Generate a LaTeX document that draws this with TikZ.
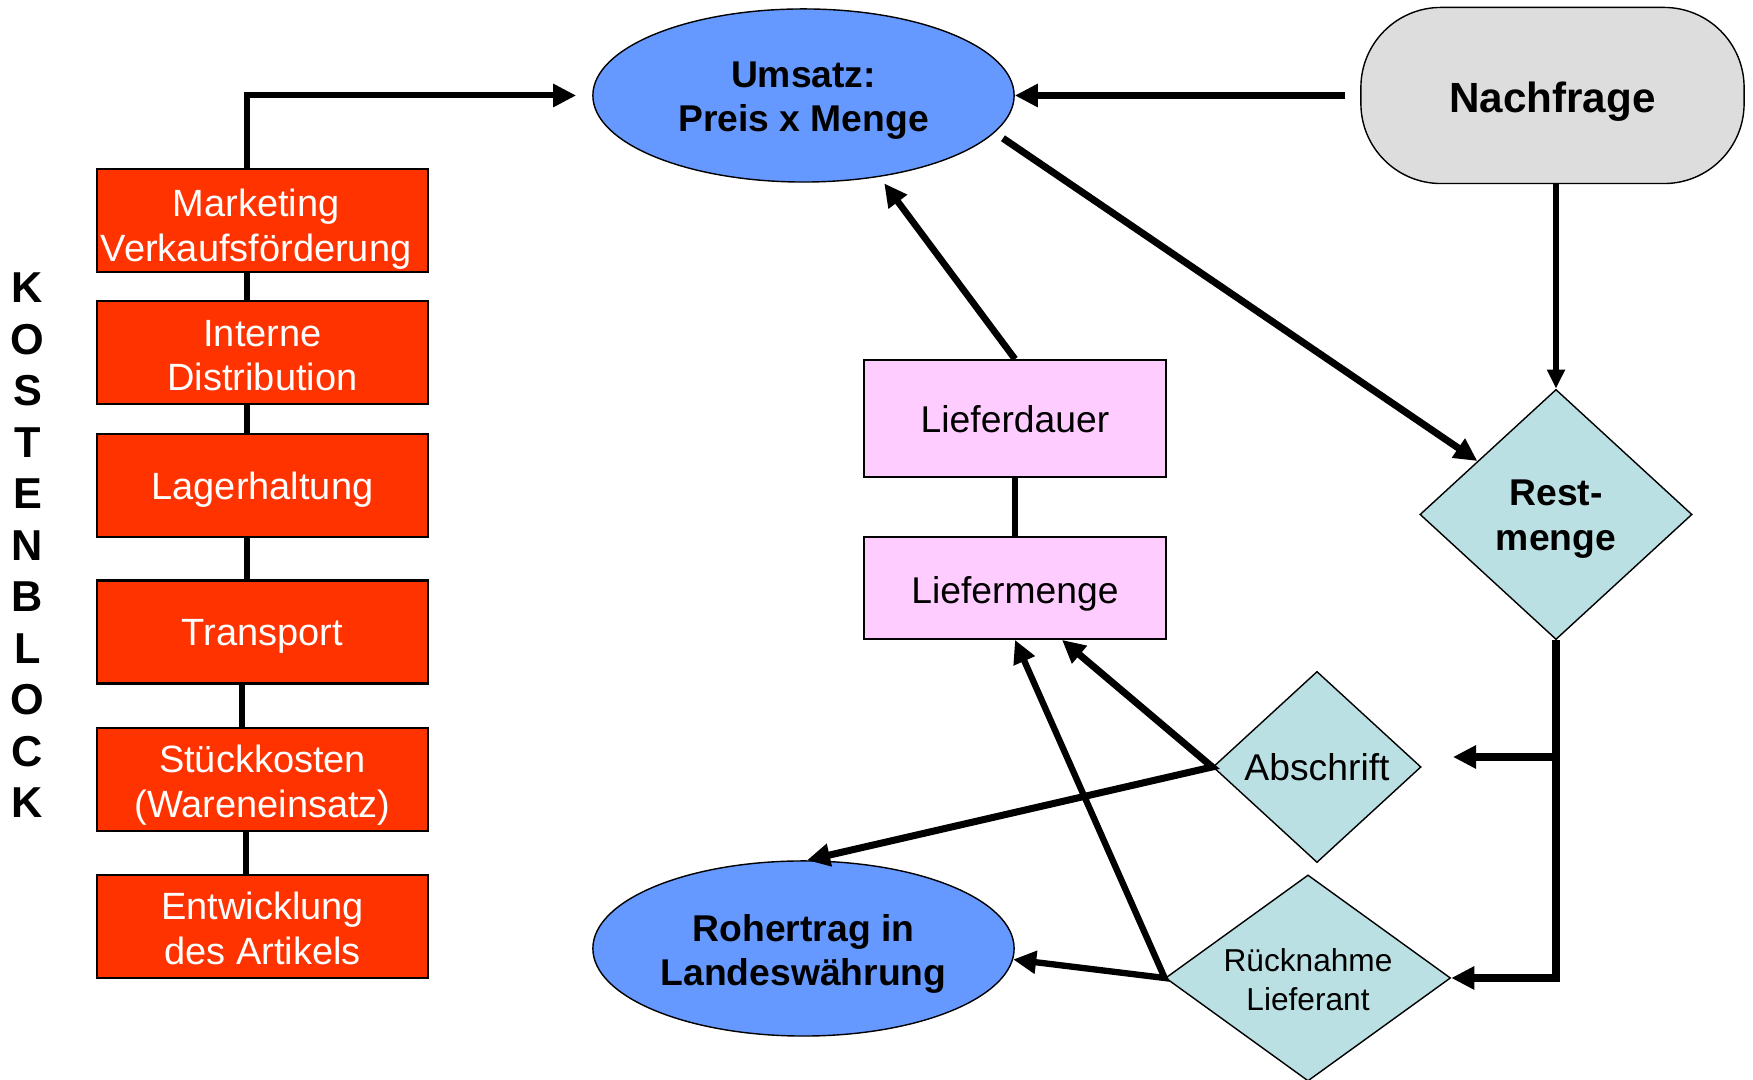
\documentclass[tikz,border=0pt]{standalone}
\usepackage{fontspec}
\setmainfont{Liberation Sans}
\usetikzlibrary{shapes.geometric,arrows.meta,calc}

\definecolor{costred}{RGB}{255,51,0}
\definecolor{salesblue}{RGB}{102,153,255}
\definecolor{demandgray}{RGB}{221,221,221}
\definecolor{delivpink}{RGB}{255,204,255}
\definecolor{decisioncyan}{RGB}{187,224,227}

% a line of text set slightly lower without changing its box
\newcommand\lowr[2][1.4pt]{\raisebox{-#1}[\height][\depth]{#2}}

\begin{document}
\begin{tikzpicture}[x=0.01cm, y=-0.01cm,
  costbox/.style={draw=black, line width=0.6pt, fill=costred, text=white,
    minimum width=3.31cm, minimum height=1.03cm, inner sep=0pt, align=center,
    font=\fontsize{10.8}{12.7}\selectfont},
  salesell/.style={ellipse, draw=black, line width=0.4pt, fill=salesblue,
    minimum width=4.21cm, inner sep=0pt, align=center,
    font=\bfseries\fontsize{10.6}{12.6}\selectfont},
  delivbox/.style={draw=black, line width=0.5pt, fill=delivpink,
    minimum width=3.02cm, inner sep=0pt, align=center,
    font=\fontsize{10.6}{12.6}\selectfont},
  decision/.style={diamond, draw=black, line width=0.4pt, fill=decisioncyan,
    inner sep=0pt, align=center},
  bigtip/.style={-{Triangle[length=0.23cm,width=0.22cm]}},
  smalltip/.style={-{Triangle[length=0.19cm,width=0.17cm]}},
  bothtips/.style={{Triangle[length=0.23cm,width=0.22cm]}-{Triangle[length=0.23cm,width=0.22cm]}},
]
\useasboundingbox (0,0) rectangle (1753,1080);

% cost block on the left
\node[font=\bfseries\fontsize{12.3}{14.65}\selectfont, align=center, inner sep=0pt]
  (kb) at (27.5,545.5) {K\\O\\S\\T\\E\\N\\B\\L\\O\\C\\K};

\node[costbox] (mk) at (262.5,220.5)
  {\lowr[2.5pt]{Marketing\hspace{3.6pt}}\\\lowr[2.5pt]{Verkaufsförderung\hspace{3.6pt}}};
\node[costbox] (id) at (262.5,352.5) {\lowr[0.85pt]{Interne}\\\lowr[0.85pt]{Distribution}};
\node[costbox] (lh) at (262.5,485.5) {\lowr[1.3pt]{Lagerhaltung}};
\node[costbox] (tr) at (262.5,632) {\lowr[1.3pt]{Transport}};
\node[costbox] (sk) at (262.5,779.5) {\lowr[1.6pt]{Stückkosten}\\\lowr[1.6pt]{(Wareneinsatz)}};
\node[costbox] (ew) at (262.5,926.5) {\lowr[0.6pt]{Entwicklung}\\\lowr[0.6pt]{des Artikels}};

\draw[line width=1.6pt] ([xshift=-0.155cm]mk.south) -- ([xshift=-0.155cm]id.north);
\draw[line width=1.6pt] ([xshift=-0.155cm]id.south) -- ([xshift=-0.155cm]lh.north);
\draw[line width=1.6pt] ([xshift=-0.155cm]lh.south) -- ([xshift=-0.155cm]tr.north);
\draw[line width=1.6pt] ([xshift=-0.205cm]tr.south) -- ([xshift=-0.205cm]sk.north);
\draw[line width=1.6pt] ([xshift=-0.165cm]sk.south) -- ([xshift=-0.165cm]ew.north);

% revenue, demand and delivery
\node[salesell, minimum height=1.73cm] (ums) at (803.5,95.5)
  {\lowr{Umsatz:}\\\lowr{Preis x Menge}};
\node[salesell, minimum height=1.75cm] (roh) at (803.5,948.5)
  {\lowr[1.6pt]{Rohertrag in}\\\lowr[1.6pt]{Landeswährung}};

\node[draw=black, line width=0.4pt, fill=demandgray, rounded corners=0.8cm,
  minimum width=3.83cm, minimum height=1.76cm, inner sep=0pt,
  font=\bfseries\fontsize{12}{14}\selectfont] (nach) at (1552.5,95.5) {\lowr[1.9pt]{Nachfrage}};

\node[delivbox, minimum height=1.17cm] (lfd) at (1015,418.5) {\lowr[0.3pt]{Lieferdauer}};
\node[delivbox, minimum height=1.02cm] (lfm) at (1015,588) {\lowr[1.6pt]{Liefermenge}};

\node[decision, aspect=1.09, minimum width=2.72cm, minimum height=2.5cm,
  font=\bfseries\fontsize{10.6}{12.7}\selectfont] (rest) at (1556,514.5)
  {\lowr{Rest-}\\\lowr{menge}};
\node[decision, aspect=1.09, minimum width=2.08cm, minimum height=1.91cm,
  font=\fontsize{10.6}{12.6}\selectfont] (absch) at (1317,767) {Abschrift};
\node[decision, aspect=1.38, minimum width=2.85cm, minimum height=2.06cm,
  font=\fontsize{9}{11}\selectfont] (rueck) at (1308,978)
  {\lowr[0.5pt]{Rücknahme}\\\lowr[0.5pt]{Lieferant}};

\coordinate (brtip) at (1453,757);

% connectors
\draw[line width=1.7pt, bigtip, shorten >=0.16cm] ([xshift=-0.155cm]mk.north) |- (ums.west);
\draw[line width=2pt, bigtip, shorten <=0.15cm] (nach.west) -- (ums.east);
\draw[line width=2pt, bigtip, shorten <=0.1cm] (ums.-11.5) -- (rest);
\draw[line width=1.7pt, smalltip] (rest.north |- nach.south) -- (rest.north);
\draw[line width=1.9pt, bigtip, shorten >=0.08cm] (lfd.north) -- (ums.-47);
\draw[line width=1.5pt] (lfd.south) -- (lfm.north);
\draw[line width=2.3pt, bigtip] (rest.south) |- (rueck.east);
\draw[line width=2.3pt, bigtip] (rest.south |- brtip) -- (brtip);
\draw[line width=2pt, bothtips] ([xshift=0.47cm]lfm.south) -- (absch.west) -- ([xshift=0.035cm]roh.north);
\draw[line width=1.8pt, bothtips] (lfm.south) -- (rueck.west) -- (roh.-3.5);
\end{tikzpicture}
\end{document}
